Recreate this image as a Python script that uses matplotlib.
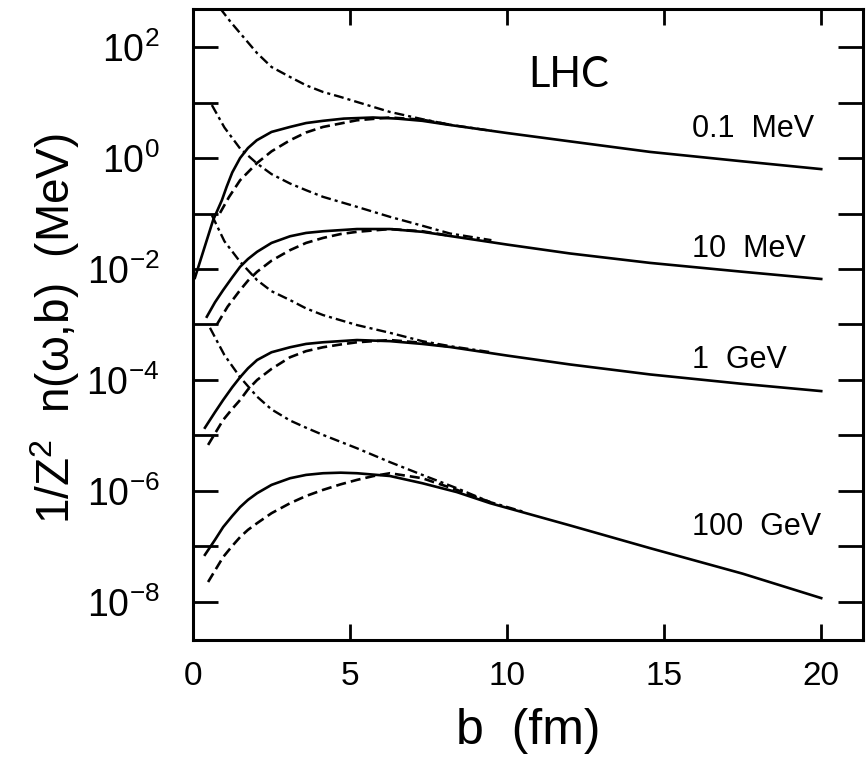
import numpy as np
import matplotlib
matplotlib.use("Agg")
import matplotlib.pyplot as plt
from matplotlib.ticker import FixedLocator, FuncFormatter

plt.rcParams['font.family'] = ['Liberation Sans', 'DejaVu Sans']
plt.rcParams['mathtext.fontset'] = 'custom'
plt.rcParams['mathtext.rm'] = 'Liberation Sans'
plt.rcParams['mathtext.it'] = 'Liberation Sans'

# values (log10 of 1/Z^2 n(w,b) in MeV), b in fm
# omega = 0.1 MeV
b_solid_01 = [0.06, 0.64, 0.92, 1.07, 1.25, 1.5, 1.75, 2.03, 2.5, 3.09, 3.6, 4.14, 4.8, 5.73, 6.5, 7.3, 8.18, 10, 12, 14.55, 17.5, 20]
lg_solid_01 = [-2.16, -1.12, -0.76, -0.52, -0.26, 0.0, 0.18, 0.32, 0.47, 0.56, 0.63, 0.67, 0.71, 0.73, 0.71, 0.67, 0.595, 0.45, 0.30, 0.11, -0.06, -0.20]
b_dash_01 = [0.86, 1.15, 1.5, 2.04, 2.5, 3.09, 3.6, 4.14, 5.22, 6.27, 7.3, 8.18]
lg_dash_01 = [-0.99, -0.70, -0.40, -0.09, 0.12, 0.32, 0.46, 0.56, 0.68, 0.73, 0.69, 0.60]
b_dd_01 = [0.86, 1.2, 1.5, 2.04, 2.5, 3.09, 3.6, 4.14, 4.7, 5.22, 6.27, 7.3, 8.18, 9.5]
lg_dd_01 = [2.70, 2.45, 2.25, 1.89, 1.64, 1.46, 1.31, 1.19, 1.10, 1.01, 0.83, 0.70, 0.60, 0.49]

# omega = 10 MeV
b_solid_10 = [0.44, 0.7, 0.96, 1.25, 1.5, 1.75, 2.04, 2.5, 3.09, 3.6, 4.14, 5.22, 6.27, 7.3, 8.18, 10, 12, 14.55, 17.5, 20]
lg_solid_10 = [-2.86, -2.6, -2.38, -2.15, -1.96, -1.82, -1.69, -1.53, -1.41, -1.35, -1.32, -1.28, -1.28, -1.33, -1.405, -1.56, -1.72, -1.89, -2.05, -2.18]
b_dash_10 = [0.76, 1.1, 1.5, 1.75, 2.04, 2.5, 3.09, 3.6, 4.14, 4.7, 5.22, 6.27, 7.3, 8.18]
lg_dash_10 = [-3.0, -2.68, -2.38, -2.21, -2.05, -1.85, -1.66, -1.53, -1.44, -1.37, -1.33, -1.28, -1.32, -1.40]
b_dd_10 = [0.6, 1.0, 1.5, 2.04, 2.5, 3.09, 3.6, 4.14, 5.22, 6.27, 7.3, 8.18, 9.5]
lg_dd_10 = [0.955, 0.55, 0.17, -0.10, -0.29, -0.46, -0.58, -0.70, -0.88, -1.06, -1.22, -1.36, -1.48]

# omega = 1 GeV
b_solid_1g = [0.38, 0.7, 0.96, 1.25, 1.5, 1.75, 2.04, 2.5, 3.09, 3.6, 4.14, 5.22, 6.27, 7.3, 8.18, 10, 12, 14.55, 17.5, 20]
lg_solid_1g = [-4.86, -4.58, -4.36, -4.13, -3.95, -3.79, -3.64, -3.50, -3.41, -3.35, -3.32, -3.28, -3.30, -3.35, -3.405, -3.56, -3.72, -3.90, -4.07, -4.20]
b_dash_1g = [0.48, 0.96, 1.25, 1.5, 1.75, 2.04, 2.5, 3.09, 3.6, 4.14, 4.7, 5.22, 6.27, 7.3, 8.18]
lg_dash_1g = [-5.17, -4.72, -4.52, -4.36, -4.17, -4.0, -3.80, -3.59, -3.48, -3.41, -3.36, -3.32, -3.28, -3.33, -3.40]
b_dd_1g = [0.6, 1.0, 1.5, 2.04, 2.5, 3.09, 3.6, 4.14, 5.22, 6.27, 7.3, 8.18, 9.5]
lg_dd_1g = [-1.03, -1.50, -1.87, -2.2, -2.40, -2.56, -2.71, -2.83, -3.01, -3.15, -3.30, -3.39, -3.50]

# omega = 100 GeV
b_solid_100g = [0.38, 0.7, 0.96, 1.25, 1.5, 1.75, 2.04, 2.5, 3.09, 3.6, 4.14, 4.7, 5.22, 6.27, 7.3, 8.4, 9.46, 12, 14.55, 17.5, 20]
lg_solid_100g = [-7.15, -6.88, -6.65, -6.45, -6.29, -6.16, -6.04, -5.89, -5.77, -5.71, -5.68, -5.67, -5.68, -5.73, -5.86, -6.02, -6.22, -6.62, -7.03, -7.49, -7.93]
b_dash_100g = [0.48, 0.96, 1.25, 1.5, 1.75, 2.04, 2.5, 3.09, 3.6, 4.14, 4.7, 5.22, 5.75, 6.27, 7.3, 8.4, 9.46]
lg_dash_100g = [-7.64, -7.19, -6.99, -6.83, -6.70, -6.58, -6.40, -6.22, -6.09, -5.98, -5.88, -5.80, -5.73, -5.68, -5.77, -5.98, -6.20]
b_dd_100g = [0.54, 1.0, 1.5, 2.04, 2.5, 3.09, 3.6, 4.14, 5.22, 6.27, 7.3, 8.4, 9.46, 10.5]
lg_dd_100g = [-3.06, -3.55, -3.95, -4.30, -4.53, -4.73, -4.86, -4.99, -5.23, -5.48, -5.71, -5.95, -6.20, -6.37]

energy_labels = ['0.1  MeV', '10  MeV', '1  GeV', '100  GeV']
label_lg = [0.378, -1.78, -3.78, -6.79]
decades = list(range(-8, 3))

fig = plt.figure(figsize=(8.66, 7.61), dpi=100)
ax = fig.add_axes([193 / 866, 121 / 761, 670 / 866, 631 / 761])

dashed = (0, (3.8, 1.9))
dashdot = (0, (4.2, 1.7, 1.3, 1.7))
groups = [
    (b_solid_01, lg_solid_01, b_dash_01, lg_dash_01, b_dd_01, lg_dd_01),
    (b_solid_10, lg_solid_10, b_dash_10, lg_dash_10, b_dd_10, lg_dd_10),
    (b_solid_1g, lg_solid_1g, b_dash_1g, lg_dash_1g, b_dd_1g, lg_dd_1g),
    (b_solid_100g, lg_solid_100g, b_dash_100g, lg_dash_100g, b_dd_100g, lg_dd_100g),
]
for bs, ls_, bd, ld, bdd, ldd in groups:
    ax.plot(bs, 10.0 ** np.array(ls_), color='black', lw=1.9, solid_joinstyle='round')
    ax.plot(bd, 10.0 ** np.array(ld), color='black', lw=1.9, linestyle=dashed)
    ax.plot(bdd, 10.0 ** np.array(ldd), color='black', lw=1.7, linestyle=dashdot)

for lab, lg in zip(energy_labels, label_lg):
    ax.text(15.9, 10.0 ** lg, lab, fontsize=22, ha='left', va='baseline')

ax.text(10.67, 10.0 ** 1.28, 'LHC', fontsize=30, family=['Lato', 'DejaVu Sans'],
        ha='left', va='baseline')

ax.set_yscale('log')
ax.set_xlim(0, 21.33)
ax.set_ylim(10.0 ** -8.685, 10.0 ** 2.685)

ax.xaxis.set_major_locator(FixedLocator([0, 5, 10, 15, 20]))
ax.yaxis.set_major_locator(FixedLocator([10.0 ** d for d in decades]))
ax.yaxis.set_minor_locator(FixedLocator([]))


def ylab(v, pos):
    e = int(round(np.log10(v)))
    if e % 2:
        return ''
    return r'$10^{%d}$' % e


ax.yaxis.set_major_formatter(FuncFormatter(ylab))
ax.tick_params(axis='y', which='major', direction='in', length=18, width=2.0,
               labelsize=27, pad=24, right=True)
ax.tick_params(axis='x', which='major', direction='in', length=11.5, width=2.0,
               labelsize=24, pad=15, top=True)
for s in ax.spines.values():
    s.set_linewidth(2.2)

fig.text(55 / 866, 1 - 329 / 761, '1/Z$^{2}$  n(ω,b)  (MeV)', rotation=90,
         fontsize=33, ha='center', va='center')
fig.text(528 / 866, 1 - 731 / 761, 'b  (fm)', fontsize=36, ha='center', va='center')

fig.savefig('out.png', dpi=100)
